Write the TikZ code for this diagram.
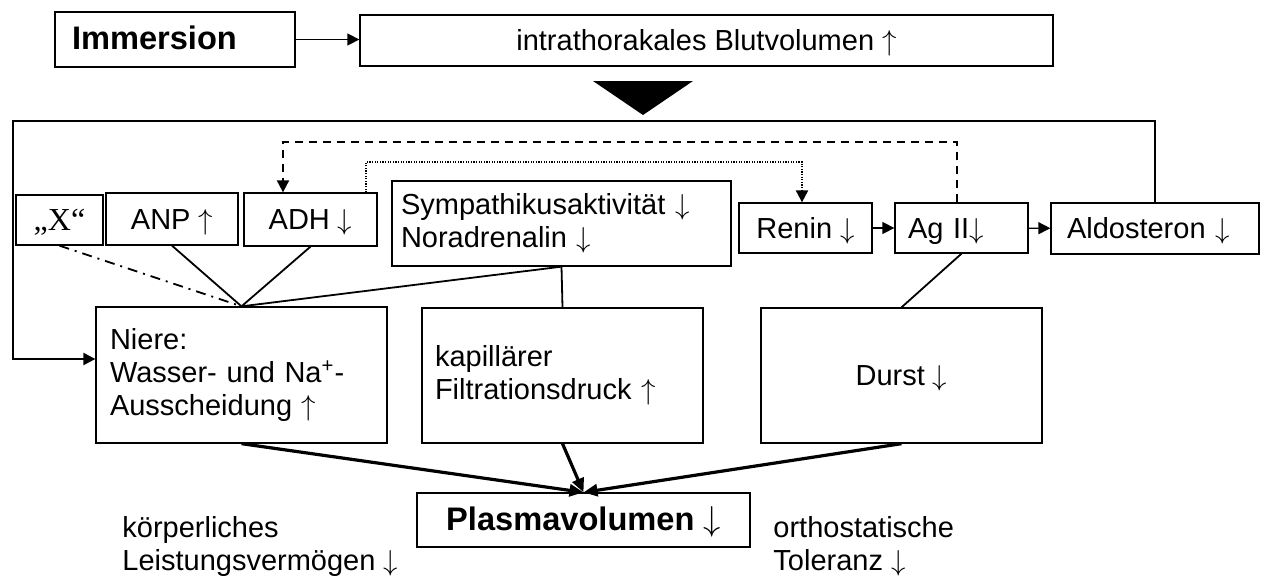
\documentclass[tikz,border=0pt]{standalone}
\usepackage{fontspec}
\setmainfont{Liberation Sans}
\newfontfamily\serifx{Liberation Serif}
\usetikzlibrary{arrows.meta}

\newcommand{\hoch}{$\uparrow$}
\newcommand{\runter}{$\downarrow$}

\tikzset{
    box/.style={draw, line width=0.65pt, inner sep=0pt, align=center},
    lbox/.style={box, align=left},
    eins/.style={text height=11.5pt, text depth=1.5pt},
    pfeil/.style={line width=0.65pt, -{Triangle[length=6pt,width=6pt]}},
    dick/.style={line width=1.6pt, -{Triangle[length=7pt,width=6pt]}},
    verb/.style={line width=0.9pt},
}

\begin{document}
\begin{tikzpicture}[x=0.5pt, y=-0.5pt, font=\fontsize{14.5}{16.5}\selectfont]
    \useasboundingbox (0,0) rectangle (1261,578);
    % Kopfzeile
    \node[lbox, eins, minimum height=27.5pt, text width=103pt, inner xsep=8.5pt] (imm) at (175,39.5)
        {\fontsize{16.3}{18}\selectfont\bfseries Immersion};
    \node[box, eins, minimum width=346.5pt, minimum height=25.5pt] (itv) at (706.5,40.5)
        {intrathorakales Blutvolumen \hoch};
    \draw[pfeil] (imm.east) -- (itv.west |- imm.east);
    \fill (593,81) -- (693,81) -- (643,115) -- cycle;
    % Hormone
    \node[box, eins, minimum width=43.5pt, minimum height=25pt] (xf) at (59.5,220)
        {\serifx\fontsize{16}{16}\selectfont „X“};
    \node[box, eins, minimum width=66pt, minimum height=26pt] (anp) at (172,219) {ANP \hoch};
    \node[box, eins, minimum width=66.5pt, minimum height=26.5pt] (adh) at (310.5,219.5) {ADH \runter};
    \node[lbox, minimum height=42.5pt, text width=160.5pt, inner xsep=4.5pt] (sym) at (561.5,223.5)
        {Sympathikusaktivität \runter\\Noradrenalin \runter};
    \node[box, eins, minimum width=66.5pt, minimum height=25pt] (ren) at (805.5,228) {Renin \runter};
    \node[lbox, eins, minimum height=25pt, text width=53.5pt, inner xsep=6.5pt] (ag) at (961.5,228) {Ag II\runter};
    \node[lbox, eins, minimum height=25.5pt, text width=88pt, inner xsep=8pt] (ald) at (1155,228.5) {Aldosteron \runter};
    \draw[pfeil] (ren) -- (ag);
    \draw[pfeil] (ag) -- (ald);
    % Wirkungen
    \node[lbox, minimum height=68pt, text width=131.5pt, inner xsep=7pt] (nie) at (241.5,375)
        {Niere:\\Wasser- und Na\textsuperscript{+}-\\Ausscheidung \hoch};
    \node[lbox, minimum height=67.5pt, text width=127.5pt, inner xsep=6.5pt] (kap) at (562.5,375.5)
        {kapillärer\\Filtrationsdruck \hoch};
    \node[box, eins, minimum width=140.5pt, minimum height=67.5pt] (dur) at (901.5,375.5) {Durst \runter};
    \node[box, eins, minimum width=166.5pt, minimum height=27pt] (pla) at (583.5,520)
        {\fontsize{16.3}{18}\selectfont\bfseries Plasmavolumen \runter};
    \node[align=left, anchor=west, inner sep=0pt] (lei) at (122,546.5)
        {körperliches\\Leistungsvermögen \runter};
    \node[align=left, anchor=west, inner sep=0pt] (tol) at (773,546.5)
        {orthostatische\\Toleranz \runter};
    % Rueckkopplung
    \coordinate (lA) at (13,121);
    \coordinate (lB) at (13,359);
    \draw[pfeil, line width=1.1pt] (ald.north) |- (lA) -- (lB) -- (lB -| nie.west);
    \coordinate (dA) at (957,142);
    \coordinate (dB) at (283,142);
    \draw[pfeil, line width=1pt, dash pattern=on 4pt off 3pt] (ag.north -| dA) -- (dA) -- (dB) -- (dB |- adh.north);
    \coordinate (pA) at (366,162);
    \coordinate (pB) at (802,162);
    \draw[pfeil, line width=1pt, dash pattern=on 0.6pt off 0.7pt] (adh.north -| pA) -- (pA) -- (pB) -- (pB |- ren.north);
    % Verbindungen
    \draw[verb, dash pattern=on 5pt off 3pt on 1pt off 3pt] (xf.south) -- (nie.north);
    \draw[verb] (anp.south) -- (nie.north);
    \draw[verb] (adh.south) -- (nie.north);
    \draw[verb] (sym.south) -- (nie.north);
    \draw[verb] (sym.south) -- (kap.north);
    \draw[verb] (ag.south) -- (dur.north);
    \draw[dick] (nie.south) -- (pla.north);
    \draw[dick] (kap.south) -- (pla.north);
    \draw[dick] (dur.south) -- (pla.north);
\end{tikzpicture}
\end{document}
